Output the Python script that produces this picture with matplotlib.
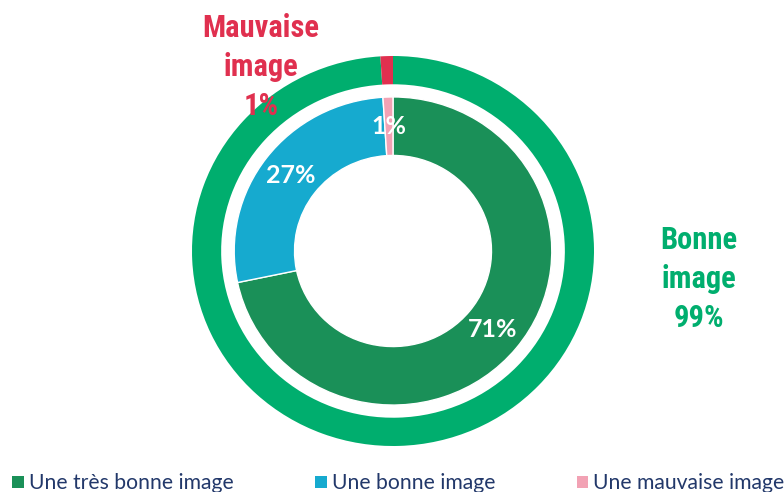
import matplotlib
matplotlib.use("Agg")
import matplotlib.pyplot as plt
from matplotlib.patches import Patch
from matplotlib import font_manager
import numpy as np

# Data
outer_labels = ["Bonne image", "Mauvaise image"]
outer_values = [99, 1]
inner_labels = ["Une très bonne image", "Une bonne image", "Une mauvaise image"]
inner_values = [71, 27, 1]
inner_pct_text = ["71%", "27%", "1%"]

outer_colors = ["#00AE6E", "#E0304F"]
inner_colors = ["#1A9058", "#16AACF", "#F2A2B4"]

W, H = 784, 492
fig = plt.figure(figsize=(W / 100, H / 100), dpi=100)
cx, cy, rx, ry = 393, 251, 201, 195
ax = fig.add_axes([(cx - rx) / W, (H - cy - ry) / H, 2 * rx / W, 2 * ry / H])

R_out, w_out = 1.0, 0.145
R_in, R_hole = 0.79, 0.49

ax.pie(outer_values, radius=R_out, colors=outer_colors, startangle=90,
       counterclock=False, wedgeprops=dict(width=w_out, linewidth=0))
wedges, _ = ax.pie(inner_values, radius=R_in, colors=inner_colors, startangle=90,
                   counterclock=False,
                   wedgeprops=dict(width=R_in - R_hole, edgecolor="white", linewidth=1))
ax.set_aspect("auto")
ax.set_xlim(-1, 1)
ax.set_ylim(-1, 1)
ax.axis("off")

rmid = (R_in + R_hole) / 2
for w, t in zip(wedges, inner_pct_text):
    ang = np.deg2rad((w.theta1 + w.theta2) / 2)
    ax.text(rmid * np.cos(ang), rmid * np.sin(ang), t, ha="center", va="center",
            color="white", fontsize=18, fontweight="bold", family=["Lato", "DejaVu Sans"])

avail = {f.name for f in font_manager.fontManager.ttflist}
cond = [n for n in ["Liberation Sans Narrow", "DejaVu Sans Condensed", "Roboto Condensed",
                    "Open Sans Condensed"] if n in avail]
big_font = cond + ["DejaVu Sans"]
big_kw = dict(ha="center", va="center", fontsize=22, fontweight="heavy",
              family=big_font, stretch="condensed", linespacing=1.36)
fig.text(261 / W, 1 - 67 / H, "Mauvaise\nimage\n" + f"{outer_values[1]}%",
         color=outer_colors[1], **big_kw)
fig.text(699 / W, 1 - 279 / H, "Bonne\nimage\n" + f"{outer_values[0]}%",
         color=outer_colors[0], **big_kw)

handles = [Patch(facecolor=c, edgecolor="none") for c in inner_colors]
fig.legend(handles, inner_labels, loc="lower left", bbox_to_anchor=(12 / W, -0.003),
           ncol=3, frameon=False, handlelength=0.55, handleheight=0.55,
           handletextpad=0.25, columnspacing=3.85, borderpad=0, borderaxespad=0,
           prop=dict(family=["Lato", "DejaVu Sans"], size=15.2), labelcolor="#22386A")

fig.savefig("out.png", dpi=100)
